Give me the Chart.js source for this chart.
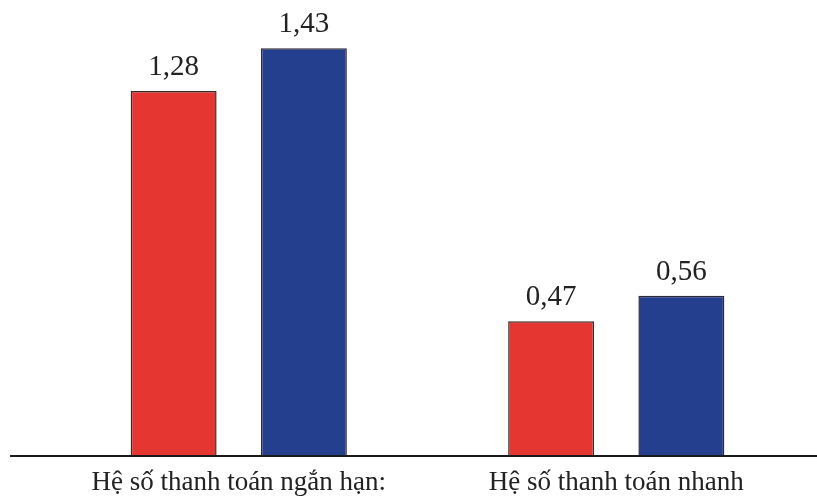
<!DOCTYPE html>
<html>
<head>
<meta charset="utf-8">
<script src="https://cdn.jsdelivr.net/npm/chart.js@4/dist/chart.umd.min.js"></script>
<style>
  html, body { margin: 0; padding: 0; background: #ffffff; }
  #wrap { width: 817px; height: 502px; position: relative; }
</style>
</head>
<body>
<div id="wrap"><canvas id="c"></canvas></div>
<script>
const categories = ["Hệ số thanh toán ngắn hạn:", "Hệ số thanh toán nhanh"];
const seriesRed = [1.28, 0.47];
const seriesBlue = [1.43, 0.56];

const valueLabels = {
  id: 'valueLabels',
  afterDatasetsDraw(chart) {
    const ctx = chart.ctx;
    ctx.save();
    ctx.font = '29px "Liberation Serif", "DejaVu Serif", serif';
    ctx.fillStyle = '#222222';
    ctx.textAlign = 'center';
    ctx.textBaseline = 'alphabetic';
    chart.data.datasets.forEach((ds, i) => {
      const meta = chart.getDatasetMeta(i);
      meta.data.forEach((el, j) => {
        const txt = ds.data[j].toFixed(2).replace('.', ',');
        ctx.fillText(txt, el.x, el.y - 16);
      });
    });
    ctx.restore();
  }
};

const axisLine = {
  id: 'axisLine',
  afterDatasetsDraw(chart) {
    const ctx = chart.ctx;
    const y = chart.chartArea.bottom;
    ctx.save();
    ctx.strokeStyle = '#1a1a1a';
    ctx.lineWidth = 2;
    ctx.beginPath();
    ctx.moveTo(10, y + 1);
    ctx.lineTo(chart.width, y + 1);
    ctx.stroke();
    ctx.restore();
  }
};

new Chart(document.getElementById('c'), {
  type: 'bar',
  data: {
    labels: categories,
    datasets: [
      { data: seriesRed, backgroundColor: '#e53632', borderColor: '#3b2a2a', borderWidth: 1.5 },
      { data: seriesBlue, backgroundColor: '#243f8e', borderColor: '#2a2a3a', borderWidth: 1.5 }
    ]
  },
  options: {
    responsive: true,
    maintainAspectRatio: false,
    animation: false,
    events: [],
    categoryPercentage: 0.69,
    barPercentage: 0.66,
    layout: { padding: { left: 50, right: 12, top: 0, bottom: 0 } },
    plugins: { legend: { display: false }, tooltip: { enabled: false } },
    scales: {
      x: {
        afterFit(scale) { scale.height = 47; },
        grid: { display: false, drawTicks: false, tickLength: 0 },
        border: { display: false },
        ticks: {
          color: '#222222',
          padding: 14,
          font: { family: '"Liberation Serif", "DejaVu Serif", serif', size: 27, lineHeight: 1.0 },
          maxRotation: 0,
          autoSkip: false
        }
      },
      y: {
        display: false,
        min: 0,
        max: 1.6
      }
    }
  },
  plugins: [valueLabels, axisLine]
});
</script>
</body>
</html>
